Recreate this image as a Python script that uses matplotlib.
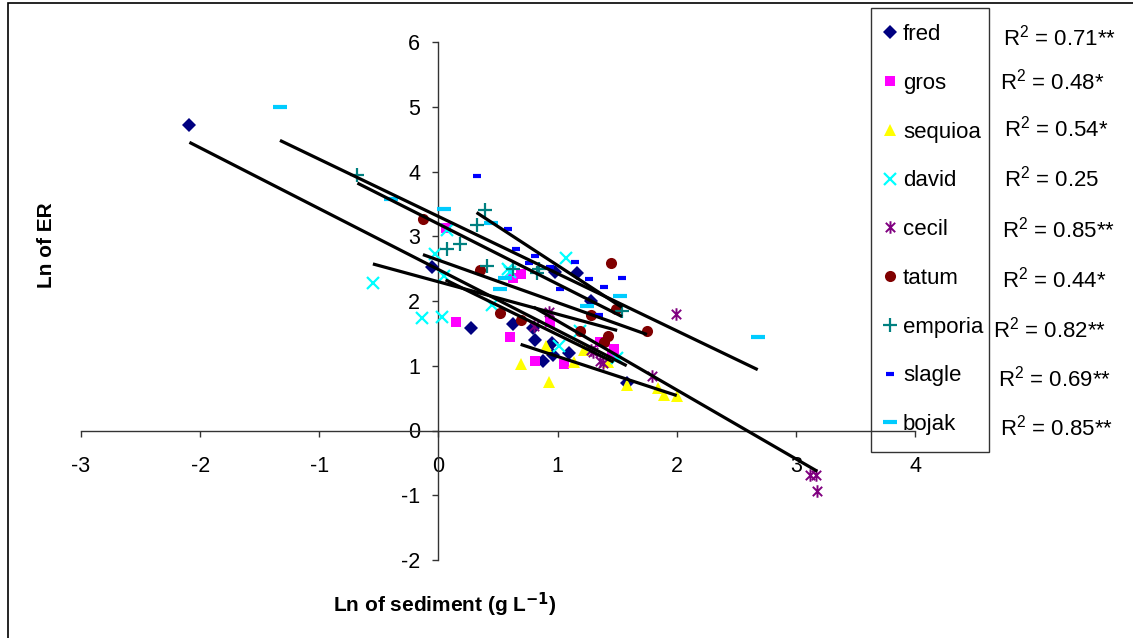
import numpy as np
import matplotlib.pyplot as plt
from matplotlib.path import Path
from matplotlib.patches import Rectangle

plt.rcParams['font.family'] = ['Liberation Sans', 'DejaVu Sans']
plt.rcParams['mathtext.default'] = 'regular'
plt.rcParams['axes.unicode_minus'] = False

# data (ln sediment, ln ER)
fred_x = [-2.09, -0.05, 0.27, 0.63, 0.79, 0.81, 0.88, 0.95, 0.96, 1.10, 0.98, 1.16, 1.28, 1.58]
fred_y = [4.72, 2.53, 1.59, 1.64, 1.58, 1.40, 1.08, 1.35, 1.16, 1.20, 2.45, 2.43, 2.00, 0.74]
gros_x = [0.06, 0.15, 0.60, 0.63, 0.69, 0.81, 0.94, 1.05, 1.36, 1.39, 1.46, 1.47]
gros_y = [3.13, 1.67, 1.45, 2.36, 2.42, 1.08, 1.67, 1.02, 1.37, 1.36, 1.18, 1.26]
sequioa_x = [0.69, 0.90, 0.93, 1.14, 1.22, 1.42, 1.58, 1.84, 1.89, 2.00]
sequioa_y = [1.02, 1.31, 0.75, 1.06, 1.24, 1.06, 0.70, 0.65, 0.55, 0.54]
david_x = [-0.55, -0.14, 0.03, -0.03, 0.045, 0.07, 0.45, 0.58, 0.60, 1.07, 1.01, 1.19, 1.50]
david_y = [2.28, 1.73, 1.76, 2.72, 2.39, 3.10, 1.94, 2.49, 2.45, 2.67, 1.30, 1.54, 1.12]
cecil_x = [0.80, 0.93, 1.28, 1.30, 1.36, 1.38, 1.79, 1.99, 3.12, 3.17, 3.18]
cecil_y = [1.62, 1.83, 1.24, 1.22, 1.08, 1.04, 0.84, 1.80, -0.69, -0.69, -0.93]
tatum_x = [-0.13, 0.35, 0.52, 0.69, 1.19, 1.28, 1.39, 1.42, 1.45, 1.49, 1.75]
tatum_y = [3.27, 2.48, 1.82, 1.70, 1.54, 1.79, 1.36, 1.46, 2.58, 1.88, 1.54]
emporia_x = [-0.68, 0.07, 0.18, 0.32, 0.39, 0.41, 0.63, 0.83, 0.84, 1.54]
emporia_y = [3.95, 2.81, 2.88, 3.18, 3.40, 2.54, 2.49, 2.44, 2.49, 1.84]
slagle_x = [0.32, 0.58, 0.65, 0.76, 0.81, 0.94, 1.02, 1.15, 1.26, 1.35, 1.39, 1.54]
slagle_y = [3.93, 3.11, 2.80, 2.58, 2.70, 2.53, 2.19, 2.61, 2.34, 1.79, 2.22, 2.36]
bojak_x = [-1.33, -0.40, 0.045, 0.44, 0.52, 0.56, 1.25, 1.52, 2.68]
bojak_y = [5.00, 3.57, 3.42, 3.20, 2.18, 2.36, 1.92, 2.07, 1.45]

names = ['fred', 'gros', 'sequioa', 'david', 'cecil', 'tatum', 'emporia', 'slagle', 'bojak']
# linear trendlines (slope, intercept)
slopes = [-0.94, -0.90, -0.603, -0.501, -1.065, -0.656, -0.928, -1.20, -0.883]
intercepts = [2.486, 2.38, 1.746, 2.297, 2.757, 2.631, 3.19, 3.75, 3.306]
r2_labels = ['0.71**', '0.48*', '0.54*', '0.25', '0.85**', '0.44*', '0.82**', '0.69**', '0.85**']

xs_all = [fred_x, gros_x, sequioa_x, david_x, cecil_x, tatum_x, emporia_x, slagle_x, bojak_x]
ys_all = [fred_y, gros_y, sequioa_y, david_y, cecil_y, tatum_y, emporia_y, slagle_y, bojak_y]

star = Path([(0, -1), (0, 1), (-0.75, -0.75), (0.75, 0.75), (-0.75, 0.75), (0.75, -0.75)],
            [Path.MOVETO, Path.LINETO] * 3)

styles = [
    dict(marker='D', color='#000080', ms=7, mew=0),
    dict(marker='s', color='#FF00FF', ms=7.2, mew=0),
    dict(marker='^', color='#FFFF00', ms=9, mew=0),
    dict(marker='x', color='#00FFFF', ms=8.5, mew=1.6),
    dict(marker=star, color='#800080', ms=9, mew=1.4),
    dict(marker='o', color='#800000', ms=8, mew=0),
    dict(marker='+', color='#008080', ms=9.5, mew=1.6),
    dict(marker='_', color='#0000FF', ms=6, mew=3),
    dict(marker='_', color='#00CCFF', ms=9.5, mew=3),
]

fig = plt.figure(figsize=(11.33, 6.38), dpi=100)
ax = fig.add_axes([81 / 1133, 1 - 560 / 638, 834 / 1133, 518 / 638])

handles = []
for name, x, y, st in zip(names, xs_all, ys_all, styles):
    h, = ax.plot(x, y, linestyle='none', label=name, zorder=3, **st)
    handles.append(h)

for x, m, b in zip(xs_all, slopes, intercepts):
    xx = np.array([min(x), max(x)])
    ax.plot(xx, b + m * xx, color='black', lw=2.3, zorder=5, solid_capstyle='butt')

ax.set_xlim(-3, 4)
ax.set_ylim(-2, 6)
ax.set_xticks(range(-3, 5))
ax.set_yticks(range(-2, 7))
ax.spines['left'].set_position(('data', 0))
ax.spines['bottom'].set_position(('data', 0))
ax.spines[['top', 'right']].set_visible(False)
for s in ['left', 'bottom']:
    ax.spines[s].set_linewidth(1)
    ax.spines[s].set_color('#333333')
ax.tick_params(axis='both', direction='out', length=4, width=1, color='#333333', labelsize=15.5)
ax.tick_params(axis='x', pad=14)
ax.tick_params(axis='y', pad=9)
ax.patch.set_alpha(0)

# legend entries without frame, box drawn separately like the Excel legend
leg = ax.legend(handles=handles, loc='upper left', bbox_to_anchor=(883 / 1133, 1 - 24 / 638),
                bbox_transform=fig.transFigure, fontsize=16, frameon=False, borderpad=0,
                labelspacing=1.25, handlelength=0.6, handletextpad=0.3, borderaxespad=0,
                numpoints=1)
fig.patches.append(Rectangle((871 / 1133, 1 - 452 / 638), 118 / 1133, 444 / 638,
                             transform=fig.transFigure, fill=False, edgecolor='#333333', lw=1))

r2_xpos = [1003, 1000, 1004, 1004, 1002, 1002, 993, 998, 1000]
r2_ypos = [38, 82, 129, 179, 230, 280, 330, 379, 428]
for lab, xp, yp in zip(r2_labels, r2_xpos, r2_ypos):
    fig.text(xp / 1133, 1 - yp / 638, 'R$^2$ = ' + lab, fontsize=16, va='center', ha='left')

fig.text(47 / 1133, 1 - 245 / 638, 'Ln of ER', rotation=90, fontsize=15, fontweight='bold',
         ha='center', va='center')
fig.text(445 / 1133, 1 - 605 / 638, r'Ln of sediment (g L$^{\mathbf{-1}}$)', fontsize=15,
         fontweight='bold', ha='center', va='center')

fig.patches.append(Rectangle((8 / 1133, -0.1), 1.2, 1.1 - 3.5 / 638, transform=fig.transFigure,
                             fill=False, edgecolor='black', lw=1.2))

fig.savefig('out.png', dpi=100)
